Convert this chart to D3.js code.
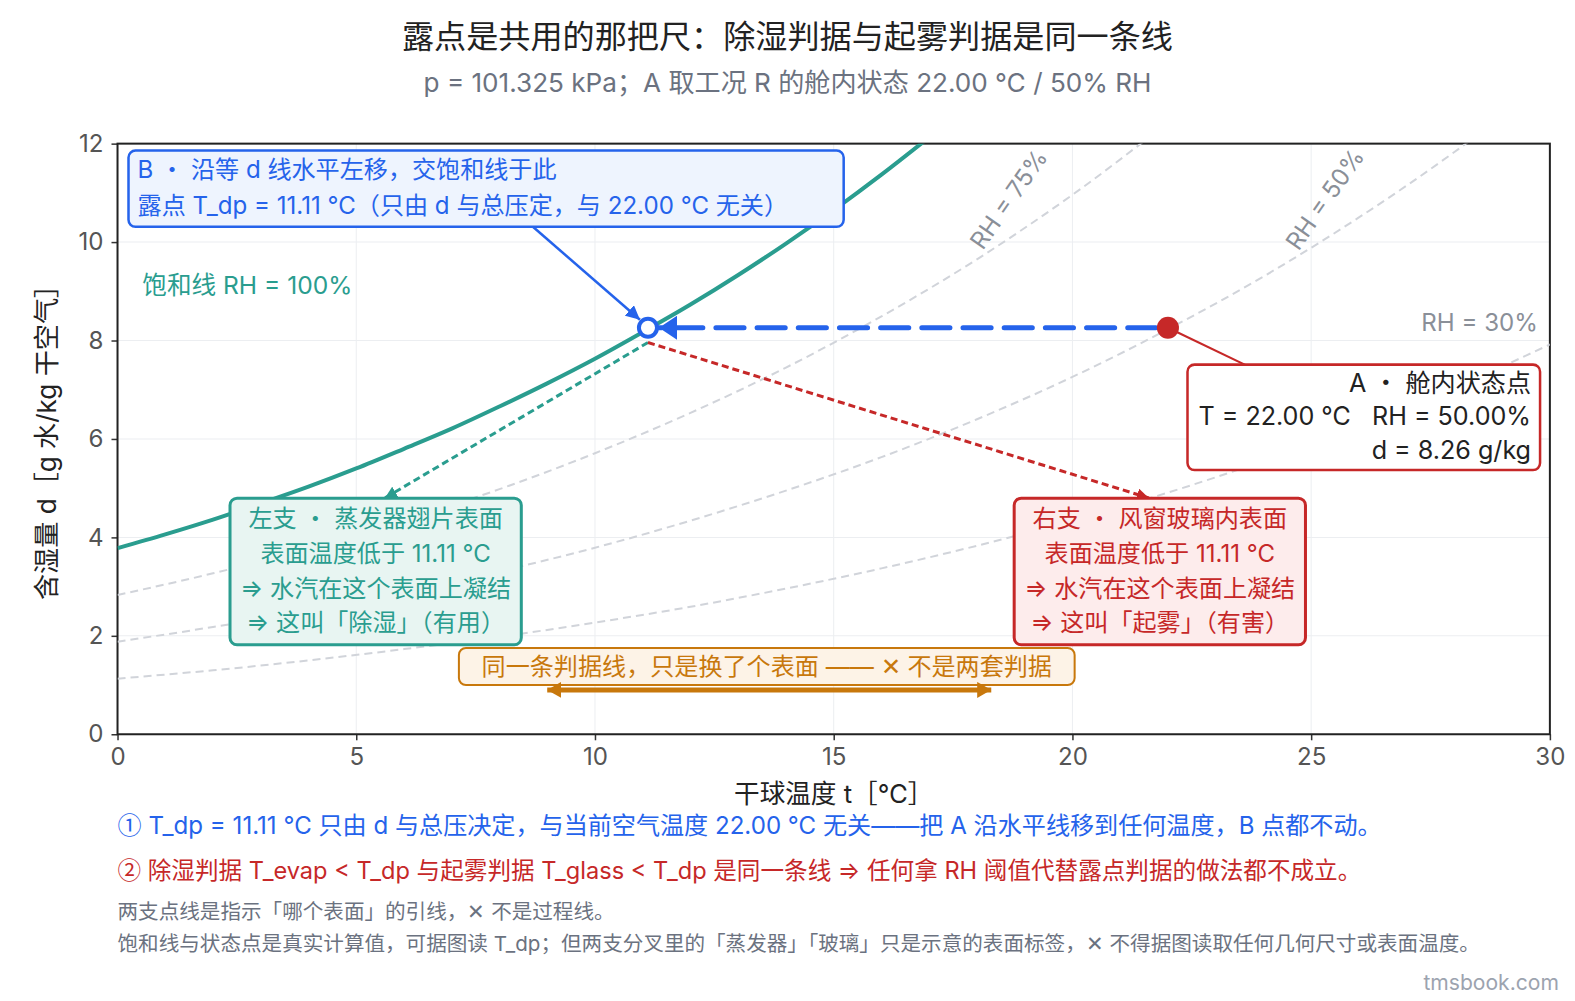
<!DOCTYPE html>
<html><head><meta charset="utf-8">
<script src="https://cdn.jsdelivr.net/npm/d3@7"></script>
<style>
body{margin:0;background:#fff}
text{font-family:"Inter","Noto Sans CJK SC","Noto Sans",sans-serif}
</style>
</head><body>
<svg id="c" width="1575" height="1001"></svg>
<script>
// ---------- data ----------
const xTicks = [0, 5, 10, 15, 20, 25, 30];
const yTicks = [0, 2, 4, 6, 8, 10, 12];
// saturation line (RH = 100%), t in °C, d in g/kg
const satT = [0,1,2,3,4,5,6,7,8,9,10,11,12,13,14,15,16,17];
const satD = [3.78,4.06,4.36,4.69,5.03,5.40,5.80,6.21,6.66,7.13,7.63,8.17,8.73,9.33,9.97,10.65,11.37,12.13];
// RH reference lines
const rhT  = [0,2,4,6,8,10,12,14,16,18,20,22,24,26,28,30];
const rh75 = [2.83,3.27,3.77,4.34,4.98,5.71,6.53,7.45,8.49,9.65,10.96,12.42,13.9,15.5,17.2,19.0];
const rh50 = [1.88,2.18,2.51,2.88,3.31,3.79,4.34,4.95,5.63,6.40,7.26,8.23,9.30,10.50,11.83,13.31];
const rh30 = [1.13,1.30,1.50,1.73,1.98,2.27,2.59,2.96,3.37,3.83,4.34,4.91,5.55,6.26,7.04,7.92];
const pointA = {t: 22.00, d: 8.26};
const pointB = {t: 11.11, d: 8.26};

const titleText = "露点是共用的那把尺：除湿判据与起雾判据是同一条线";
const subText = "p = 101.325 kPa；A 取工况 R 的舱内状态 22.00 ℃ / 50% RH";

// ---------- colours ----------
const BLUE = "#2563eb", RED = "#c62828", TEAL = "#2a9d8f", ORANGE = "#c8780c", GRAY = "#6b7280";

const root = d3.select("#c");
const svg = root.append("g").attr("transform", "scale(1.00446)");
const L = 117, R = 1543, T = 143, B = 731;
const x = d3.scaleLinear().domain([0, 30]).range([L, R]);
const y = d3.scaleLinear().domain([0, 12]).range([B, T]);

// defs
const defs = root.append("defs");
defs.append("clipPath").attr("id", "clip").append("rect")
  .attr("x", L).attr("y", T).attr("width", R - L).attr("height", B - T);
function marker(id, color, w, h) {
  defs.append("marker").attr("id", id).attr("markerUnits", "userSpaceOnUse")
    .attr("viewBox", `0 0 ${w} ${h}`).attr("refX", w).attr("refY", h / 2)
    .attr("markerWidth", w).attr("markerHeight", h).attr("orient", "auto-start-reverse")
    .append("path").attr("d", `M0,0L${w},${h/2}L0,${h}Z`).attr("fill", color);
}
marker("arB", BLUE, 18, 24);
marker("arBs", BLUE, 14, 14);
marker("arT", TEAL, 12, 12);
marker("arR", RED, 12, 12);
marker("arO", ORANGE, 14, 16);

// title
svg.append("text").attr("x", 784).attr("y", 48).attr("text-anchor", "middle")
  .attr("font-size", 32).attr("fill", "#222").text(titleText);
svg.append("text").attr("x", 784).attr("y", 92).attr("text-anchor", "middle")
  .attr("font-size", 26).attr("fill", GRAY).text(subText);

// grid
const g = svg.append("g");
g.selectAll(".gx").data(xTicks).join("line").attr("x1", d => x(d)).attr("x2", d => x(d))
  .attr("y1", T).attr("y2", B).attr("stroke", "#eceef1").attr("stroke-width", 1);
g.selectAll(".gy").data(yTicks).join("line").attr("y1", d => y(d)).attr("y2", d => y(d))
  .attr("x1", L).attr("x2", R).attr("stroke", "#eceef1").attr("stroke-width", 1);

// axes
const ax = svg.append("g").attr("transform", `translate(0,${B})`)
  .call(d3.axisBottom(x).tickValues(xTicks).tickSize(6).tickPadding(8));
const ay = svg.append("g").attr("transform", `translate(${L},0)`)
  .call(d3.axisLeft(y).tickValues(yTicks).tickSize(6).tickPadding(8));
[ax, ay].forEach(a => {
  a.select(".domain").remove();
  a.selectAll("line").attr("stroke", "#333").attr("stroke-width", 1.5);
  a.selectAll("text").attr("font-size", 24).attr("fill", "#555")
    .style("font-family", "Inter,'Noto Sans CJK SC',sans-serif");
});
svg.append("rect").attr("x", L).attr("y", T).attr("width", R - L).attr("height", B - T)
  .attr("fill", "none").attr("stroke", "#222").attr("stroke-width", 2);

svg.append("text").attr("x", (L + R) / 2).attr("y", 799).attr("text-anchor", "middle")
  .attr("font-size", 25.5).attr("fill", "#222").text("干球温度 t［℃］");
svg.append("text").attr("transform", `translate(56,${(T + B) / 2 - 3}) rotate(-90)`)
  .attr("text-anchor", "middle").attr("font-size", 26).attr("fill", "#222")
  .text("含湿量 d［g 水/kg 干空气］");

// curves
const plot = svg.append("g").attr("clip-path", "url(#clip)");
const line = d3.line().x(d => x(d[0])).y(d => y(d[1])).curve(d3.curveMonotoneX);
[rh75, rh50, rh30].forEach(arr => {
  plot.append("path").attr("d", line(rhT.map((t, i) => [t, arr[i]])))
    .attr("fill", "none").attr("stroke", "#d1d4da").attr("stroke-width", 2)
    .attr("stroke-dasharray", "8,5");
});
plot.append("path").attr("d", line(satT.map((t, i) => [t, satD[i]])))
  .attr("fill", "none").attr("stroke", TEAL).attr("stroke-width", 4);

// RH labels
svg.append("text").attr("transform", `translate(${x(18.7)},${y(10.85)}) rotate(-55)`)
  .attr("text-anchor", "middle").attr("dominant-baseline", "middle")
  .attr("font-size", 24).attr("fill", "#8a8f98").text("RH = 75%");
svg.append("text").attr("transform", `translate(${x(25.32)},${y(10.85)}) rotate(-55)`)
  .attr("text-anchor", "middle").attr("dominant-baseline", "middle")
  .attr("font-size", 24).attr("fill", "#8a8f98").text("RH = 50%");
svg.append("text").attr("x", x(29.75)).attr("y", y(8.26) + 3).attr("text-anchor", "end")
  .attr("font-size", 24).attr("fill", "#8a8f98").text("RH = 30%");
svg.append("text").attr("x", x(0.52)).attr("y", y(8.95)).attr("font-size", 24.5)
  .attr("fill", TEAL).text("饱和线 RH = 100%");

// leader dotted lines from B
svg.append("line").attr("x1", x(pointB.t)).attr("y1", y(pointB.d - 0.3))
  .attr("x2", x(5.6)).attr("y2", y(4.8)).attr("stroke", TEAL).attr("stroke-width", 3)
  .attr("stroke-dasharray", "7,4").attr("marker-end", "url(#arT)");
svg.append("line").attr("x1", x(pointB.t)).attr("y1", y(pointB.d - 0.3))
  .attr("x2", x(21.6)).attr("y2", y(4.8)).attr("stroke", RED).attr("stroke-width", 3)
  .attr("stroke-dasharray", "7,4").attr("marker-end", "url(#arR)");

// horizontal move A -> B
svg.append("line").attr("x1", x(pointA.t) - 12).attr("y1", y(pointA.d))
  .attr("x2", x(pointB.t) + 11).attr("y2", y(pointA.d))
  .attr("stroke", BLUE).attr("stroke-width", 5).attr("stroke-dasharray", "28,13")
  .attr("stroke-linecap", "round").attr("marker-end", "url(#arB)");

// A leader
svg.append("line").attr("x1", x(pointA.t)).attr("y1", y(pointA.d))
  .attr("x2", x(23.63)).attr("y2", y(7.5)).attr("stroke", RED).attr("stroke-width", 2.2);

// B leader from box
svg.append("line").attr("x1", x(8.7)).attr("y1", y(10.31))
  .attr("x2", x(pointB.t) - 8).attr("y2", y(pointB.d) - 8)
  .attr("stroke", BLUE).attr("stroke-width", 2.5).attr("marker-end", "url(#arBs)");

// points
svg.append("circle").attr("cx", x(pointA.t)).attr("cy", y(pointA.d)).attr("r", 11).attr("fill", RED);
svg.append("circle").attr("cx", x(pointB.t)).attr("cy", y(pointB.d)).attr("r", 9)
  .attr("fill", "#fff").attr("stroke", BLUE).attr("stroke-width", 4);

// boxes
function box(t, d, w, h, fill, stroke, sw) {
  svg.append("rect").attr("x", x(t)).attr("y", y(d)).attr("width", w).attr("height", h)
    .attr("rx", 7).attr("fill", fill).attr("stroke", stroke).attr("stroke-width", sw);
  return {x0: x(t), y0: y(d), w, h};
}
// blue
const bb = box(0.23, 11.86, 712, 76, "#eef4fe", BLUE, 2.5);
["B ・ 沿等 d 线水平左移，交饱和线于此", "露点 T_dp = 11.11 ℃（只由 d 与总压定，与 22.00 ℃ 无关）"]
  .forEach((s, i) => svg.append("text").attr("x", bb.x0 + 9).attr("y", bb.y0 + 27 + i * 36)
    .attr("font-size", 24).attr("fill", BLUE).text(s));
// red A
const ab = box(22.41, 7.51, 351, 105, "#fff", RED, 2.5);
["A ・ 舱内状态点", "T = 22.00 ℃   RH = 50.00%", "d = 8.26 g/kg"]
  .forEach((s, i) => svg.append("text").attr("x", ab.x0 + ab.w - 9).attr("y", ab.y0 + 27 + i * 33.5)
    .attr("text-anchor", "end").attr("font-size", 25).attr("fill", "#222").style("white-space", "pre")
    .text(s));
// teal left
const tb = box(2.356, 4.796, 290, 146, "#e8f5f2", TEAL, 3);
["左支 ・ 蒸发器翅片表面", "表面温度低于 11.11 ℃", "⇒ 水汽在这个表面上凝结", "⇒ 这叫「除湿」（有用）"]
  .forEach((s, i) => svg.append("text").attr("x", tb.x0 + tb.w / 2).attr("y", tb.y0 + 29 + i * 34.5)
    .attr("text-anchor", "middle").attr("font-size", 24).attr("fill", TEAL).text(s));
// red right
const rb = box(18.78, 4.796, 290, 146, "#fdecec", RED, 3);
["右支 ・ 风窗玻璃内表面", "表面温度低于 11.11 ℃", "⇒ 水汽在这个表面上凝结", "⇒ 这叫「起雾」（有害）"]
  .forEach((s, i) => svg.append("text").attr("x", rb.x0 + rb.w / 2).attr("y", rb.y0 + 29 + i * 34.5)
    .attr("text-anchor", "middle").attr("font-size", 24).attr("fill", RED).text(s));
// orange
const ob = box(7.15, 1.755, 613, 37, "#fdf3e7", ORANGE, 2);
svg.append("text").attr("x", ob.x0 + ob.w / 2).attr("y", ob.y0 + 27).attr("text-anchor", "middle")
  .attr("font-size", 24).attr("fill", ORANGE).text("同一条判据线，只是换了个表面 —— ✕ 不是两套判据");
svg.append("line").attr("x1", x(9.0)).attr("y1", y(0.9)).attr("x2", x(18.3)).attr("y2", y(0.9))
  .attr("stroke", ORANGE).attr("stroke-width", 5)
  .attr("marker-start", "url(#arO)").attr("marker-end", "url(#arO)");

// footer
function note(yy, size, color, mark, rest) {
  const t = svg.append("text").attr("x", 117).attr("y", yy).attr("font-size", size).attr("fill", color);
  if (mark) t.append("tspan").style("font-family", "'Noto Sans CJK SC',sans-serif").text(mark);
  t.append("tspan").text(rest);
}
note(830, 24, BLUE, "①", " T_dp = 11.11 ℃ 只由 d 与总压决定，与当前空气温度 22.00 ℃ 无关——把 A 沿水平线移到任何温度，B 点都不动。");
note(875, 23.5, RED, "②", " 除湿判据 T_evap < T_dp 与起雾判据 T_glass < T_dp 是同一条线 ⇒ 任何拿 RH 阈值代替露点判据的做法都不成立。");
note(915, 20.5, GRAY, null, "两支点线是指示「哪个表面」的引线，✕ 不是过程线。");
note(947, 20.5, GRAY, null, "饱和线与状态点是真实计算值，可据图读 T_dp；但两支分叉里的「蒸发器」「玻璃」只是示意的表面标签，✕ 不得据图读取任何几何尺寸或表面温度。");
svg.append("text").attr("x", 1552).attr("y", 986).attr("text-anchor", "end").attr("font-size", 21)
  .attr("fill", "#9ca3af").text("tmsbook.com");
</script>
</body></html>
